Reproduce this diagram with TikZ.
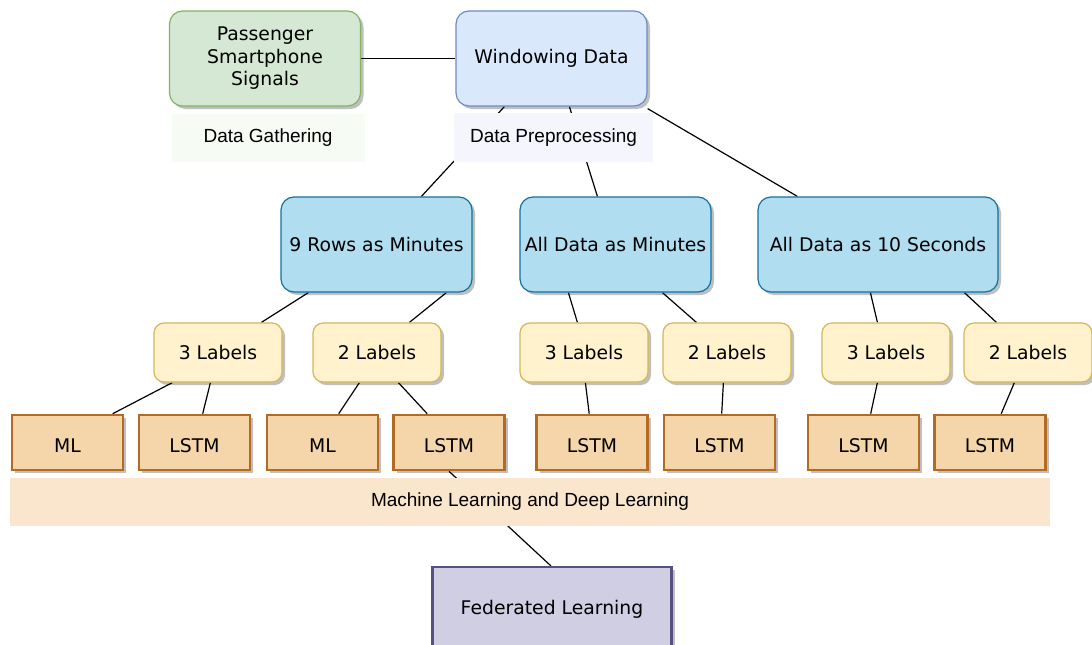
\documentclass[tikz,border=0pt]{standalone}
\usepackage{fontspec}
\setmainfont{DejaVu Sans}
\newfontfamily\helv{Liberation Sans}
\usetikzlibrary{shadows,backgrounds,calc}
\definecolor{greenF}{HTML}{D5E8D4}
\definecolor{greenD}{HTML}{82B366}
\definecolor{wdF}{HTML}{DAE8FC}
\definecolor{wdD}{HTML}{6C8EBF}
\definecolor{blueF}{HTML}{B1DDF0}
\definecolor{blueD}{HTML}{10739E}
\definecolor{yelF}{HTML}{FFF2CC}
\definecolor{yelD}{HTML}{D6B656}
\definecolor{orF}{HTML}{F5D6AB}
\definecolor{orD}{HTML}{B36A24}
\definecolor{bandF}{HTML}{FAE5CD}
\definecolor{purF}{HTML}{D0CEE2}
\definecolor{purD}{HTML}{56517E}
\definecolor{gathF}{HTML}{F6FCF4}
\definecolor{prepF}{HTML}{F4F5FD}
\begin{document}
\begin{tikzpicture}[x=1pt,y=-1pt,
  base/.style={draw, line width=1.2pt, align=center, inner sep=0pt,
    font=\fontsize{18.8}{22.5}\selectfont,
    drop shadow={shadow xshift=3pt, shadow yshift=-3pt, fill=black, opacity=0.25}},
  rbox/.style={base, rounded corners=13pt},
  ybox/.style={base, rounded corners=10pt, fill=yelF, draw=yelD, minimum width=128pt, minimum height=59pt},
  bbox/.style={rbox, fill=blueF, draw=blueD, minimum height=95pt},
  obox/.style={base, line width=2.6pt, fill=orF, draw=orD, minimum width=111pt, minimum height=55pt, text height=19pt, text depth=0pt},
  lbl/.style={fill=#1, inner sep=0pt, font=\helv\fontsize{19}{22}\selectfont},
  conn/.style={line width=1.2pt, black}
]
\useasboundingbox (0,0) rectangle (1092,645);

% top row
\node[rbox, fill=greenF, draw=greenD, minimum width=191pt, minimum height=95pt] (ps) at (265,58.5) {Passenger\\Smartphone\\Signals};
\node[rbox, fill=wdF, draw=wdD, minimum width=191pt, minimum height=95pt] (wd) at (551.5,58.5) {Windowing Data};
\node[lbl=gathF, minimum width=193pt, minimum height=48pt] (gath) at (268,137.5) {Data Gathering};
\node[lbl=prepF, minimum width=199pt, minimum height=49pt] (prep) at (553.5,137.5) {Data Preprocessing};

% middle row
\node[bbox, minimum width=191pt] (r9) at (376.5,244.5) {9 Rows as Minutes};
\node[bbox, minimum width=191pt] (am) at (615.5,244.5) {All Data as Minutes};
\node[bbox, minimum width=240pt] (as) at (878,244.5) {All Data as 10 Seconds};

% labels
\node[ybox] (l1) at (218,352.5) {3 Labels};
\node[ybox] (l2) at (377,352.5) {2 Labels};
\node[ybox] (l3) at (584,352.5) {3 Labels};
\node[ybox] (l4) at (727,352.5) {2 Labels};
\node[ybox] (l5) at (886,352.5) {3 Labels};
\node[ybox] (l6) at (1028,352.5) {2 Labels};

% models
\node[obox] (m1) at (67.5,442.5) {ML};
\node[obox] (m2) at (194.5,442.5) {LSTM};
\node[obox] (m3) at (322.5,442.5) {ML};
\node[obox] (m4) at (449,442.5) {LSTM};
\node[obox] (m5) at (592,442.5) {LSTM};
\node[obox] (m6) at (719.5,442.5) {LSTM};
\node[obox] (m7) at (863.5,442.5) {LSTM};
\node[obox] (m8) at (990,442.5) {LSTM};

% band
\node[lbl=bandF, minimum width=1040pt, minimum height=48pt] (band) at (530,502) {Machine Learning and Deep Learning};

% federated
\node[base, line width=2.4pt, fill=purF, draw=purD, minimum width=239pt, minimum height=90pt, anchor=north, text depth=10.5pt] (fl) at (552,566) {Federated Learning};

\begin{scope}[on background layer]
\draw[conn] (ps.east) -- (wd.west);
\draw[conn] ([xshift=49pt]wd.south west) -- ([xshift=141pt]r9.south west |- r9.north);
\draw[conn] ([xshift=114pt]wd.south west) -- ([xshift=78pt]am.south west |- am.north);
\draw[conn] ([yshift=-2pt]wd.south east) -- ([xshift=40pt]as.south west |- as.north);
\draw[conn] ([xshift=28pt]r9.south west) -- ([xshift=108pt]l1.north west);
\draw[conn] ([xshift=166pt]r9.south west) -- ([xshift=97pt]l2.north west);
\draw[conn] ([xshift=49pt]am.south west) -- ([xshift=58pt]l3.north west);
\draw[conn] ([xshift=143pt]am.south west) -- ([xshift=34pt]l4.north west);
\draw[conn] ([xshift=113pt]as.south west) -- ([xshift=56pt]l5.north west);
\draw[conn] ([xshift=207pt]as.south west) -- ([xshift=33pt]l6.north west);
\draw[conn] ([xshift=19pt]l1.south west) -- ([xshift=102pt]m1.north west);
\draw[conn] ([xshift=57pt]l1.south west) -- ([xshift=65pt]m2.north west);
\draw[conn] ([xshift=47pt]l2.south west) -- ([xshift=73pt]m3.north west);
\draw[conn] ([xshift=86pt]l2.south west) -- ([xshift=35pt]m4.north west);
\draw[conn] ([xshift=66pt]l3.south west) -- ([xshift=54pt]m5.north west);
\draw[conn] ([xshift=61pt]l4.south west) -- ([xshift=59pt]m6.north west);
\draw[conn] ([xshift=56pt]l5.south west) -- ([xshift=64pt]m7.north west);
\draw[conn] ([xshift=51pt]l6.south west) -- ([xshift=68pt]m8.north west);
\draw[conn] (m4.south) -- ([xshift=-1pt]fl.north);
\end{scope}
\end{tikzpicture}
\end{document}
